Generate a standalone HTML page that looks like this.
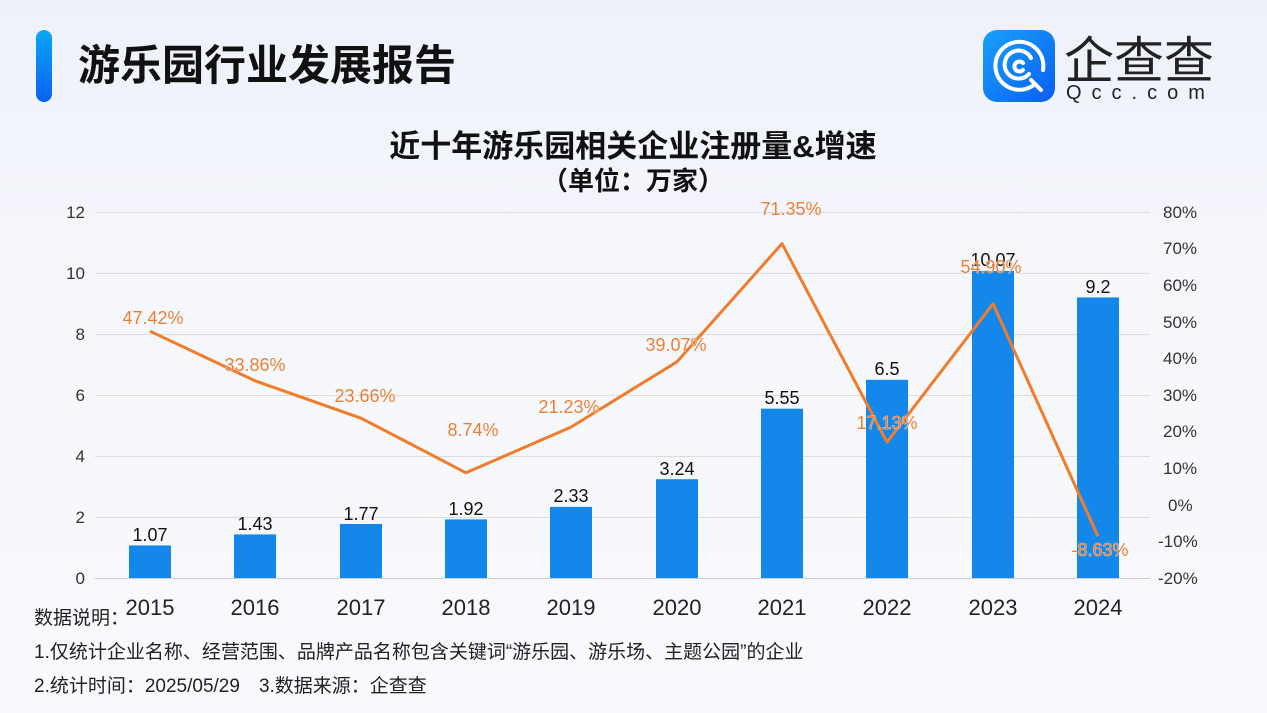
<!DOCTYPE html>
<html><head><meta charset="utf-8"><style>
html,body{margin:0;padding:0}
body{width:1267px;height:713px;overflow:hidden;background:linear-gradient(180deg,#eef1fa 0%,#f6f7fc 40%,#f8f9fd 100%);font-family:"Liberation Sans","Noto Sans CJK SC",sans-serif;position:relative}
</style></head><body>
<svg width="1267" height="713" xmlns="http://www.w3.org/2000/svg" style="position:absolute;left:0;top:0;font-family:'Liberation Sans','Noto Sans CJK SC',sans-serif">
<defs>
<linearGradient id="bar" x1="0" y1="0" x2="0" y2="1"><stop offset="0" stop-color="#09a6f8"/><stop offset="1" stop-color="#0a62f2"/></linearGradient>
<linearGradient id="logo" x1="0" y1="0" x2="1" y2="1"><stop offset="0" stop-color="#1aa0fb"/><stop offset="1" stop-color="#0a5ff0"/></linearGradient>
</defs>
<rect x="36" y="30" width="16" height="72" rx="8" fill="url(#bar)"/>
<text x="78" y="80" font-size="42" font-weight="bold" fill="#111">游乐园行业发展报告</text>
<rect x="983" y="30" width="72" height="72" rx="14" fill="url(#logo)"/>
<g fill="none" stroke="#fff" stroke-width="4" stroke-linecap="round">
<path d="M1035 84 A24 24 0 1 1 1043 70"/>
<path d="M1029 74 A14 14 0 1 1 1031 58"/>
<path d="M1023 63 A5 5 0 1 0 1023 70"/>
<path d="M1031 80 L1041 90"/>
</g>
<text x="1064" y="78" font-size="50" fill="#222">企查查</text>
<text x="1066" y="99" font-size="20" fill="#222" letter-spacing="10">Qcc.com</text>
<text x="633" y="157" font-size="31" font-weight="bold" fill="#111" text-anchor="middle">近十年游乐园相关企业注册量&amp;增速</text>
<text x="633" y="190" font-size="26" font-weight="bold" fill="#111" text-anchor="middle">（单位：万家）</text>
<g stroke="#dcdde2" stroke-width="1">
<line x1="95" x2="1150" y1="212.5" y2="212.5"/><line x1="95" x2="1150" y1="273.5" y2="273.5"/>
<line x1="95" x2="1150" y1="334.5" y2="334.5"/><line x1="95" x2="1150" y1="395.5" y2="395.5"/>
<line x1="95" x2="1150" y1="456.5" y2="456.5"/><line x1="95" x2="1150" y1="517.5" y2="517.5"/>
<line x1="95" x2="1150" y1="578.5" y2="578.5" stroke="#c8c9ce"/>
</g>
<g font-size="17" fill="#333" text-anchor="end">
<text x="85" y="218">12</text><text x="85" y="279">10</text><text x="85" y="340">8</text><text x="85" y="401">6</text><text x="85" y="462">4</text><text x="85" y="523">2</text><text x="85" y="584">0</text>
</g>
<g font-size="17" fill="#333" text-anchor="start">
<text x="1163" y="218">80%</text><text x="1163" y="254">70%</text><text x="1163" y="291">60%</text><text x="1163" y="328">50%</text><text x="1163" y="364">40%</text><text x="1163" y="401">30%</text><text x="1163" y="437">20%</text><text x="1163" y="474">10%</text><text x="1168" y="511">0%</text><text x="1158" y="547">-10%</text><text x="1158" y="584">-20%</text>
</g>
<g fill="#1388ea">
<rect x="129" y="545.4" width="42" height="32.6"/>
<rect x="234" y="534.4" width="42" height="43.6"/>
<rect x="340" y="524" width="42" height="54"/>
<rect x="445" y="519.4" width="42" height="58.6"/>
<rect x="550" y="506.9" width="42" height="71.1"/>
<rect x="656" y="479.2" width="42" height="98.8"/>
<rect x="761" y="408.7" width="42" height="169.3"/>
<rect x="866" y="379.8" width="42" height="198.2"/>
<rect x="972" y="270.9" width="42" height="307.1"/>
<rect x="1077" y="297.4" width="42" height="280.6"/>
</g>
<g font-size="18" fill="#111" text-anchor="middle">
<text x="150" y="541">1.07</text><text x="255" y="530">1.43</text><text x="361" y="520">1.77</text><text x="466" y="515">1.92</text><text x="571" y="502">2.33</text><text x="677" y="475">3.24</text><text x="782" y="404">5.55</text><text x="887" y="375">6.5</text><text x="993" y="266">10.07</text><text x="1098" y="293">9.2</text>
</g>
<polyline fill="none" stroke="#f07c2c" stroke-width="3" stroke-linejoin="round" points="150,331.2 255,380.8 361,418.2 466,472.8 571,427.1 677,361.8 782,243.6 887,442.1 993,303.8 1098,536.4"/>
<g font-size="18" fill="#ea7d35" text-anchor="middle" stroke="#fff" stroke-width="0.6" paint-order="stroke">
<text x="153" y="324">47.42%</text><text x="255" y="371">33.86%</text><text x="365" y="402">23.66%</text><text x="473" y="436">8.74%</text><text x="569" y="413">21.23%</text><text x="676" y="351">39.07%</text><text x="791" y="215">71.35%</text><text x="887" y="429">17.13%</text><text x="991" y="273">54.90%</text><text x="1100" y="556">-8.63%</text>
</g>
<g font-size="22" fill="#222" text-anchor="middle">
<text x="150" y="615">2015</text><text x="255" y="615">2016</text><text x="361" y="615">2017</text><text x="466" y="615">2018</text><text x="571" y="615">2019</text><text x="677" y="615">2020</text><text x="782" y="615">2021</text><text x="887" y="615">2022</text><text x="993" y="615">2023</text><text x="1098" y="615">2024</text>
</g>
<g font-size="19" fill="#222">
<text x="34" y="624">数据说明：</text>
<text x="34" y="658">1.仅统计企业名称、经营范围、品牌产品名称包含关键词“游乐园、游乐场、主题公园”的企业</text>
<text x="34" y="692">2.统计时间：2025/05/29　3.数据来源：企查查</text>
</g>
</svg>
</body></html>
